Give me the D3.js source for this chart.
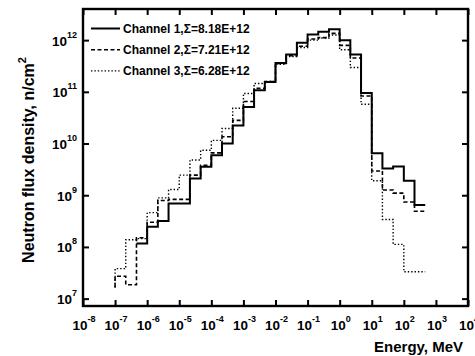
<!DOCTYPE html>
<html>
<head>
<meta charset="utf-8">
<script src="https://cdn.jsdelivr.net/npm/d3@7"></script>
<style>
	body { margin: 0; background: #fff; }
	svg { display: block; font-family: "Liberation Sans", Arial, sans-serif; font-weight: bold; }
</style>
</head>
<body>
<div id="chart"></div>
<script>
// bin edges, MeV (3 bins per decade)
var binEdges = [1e-7, 2.15e-7, 4.64e-7, 1e-6, 2.15e-6, 4.64e-6, 1e-5, 2.15e-5, 4.64e-5,
	1e-4, 2.15e-4, 4.64e-4, 1e-3, 2.15e-3, 4.64e-3, 1e-2, 2.15e-2, 4.64e-2,
	1e-1, 2.15e-1, 4.64e-1, 1, 2.15, 4.64, 10, 21.5, 46.4, 100, 215, 464];

// flux per bin, n/cm2 (channel 1 starts at the 3rd edge)
var channel1 = [1.16e8, 2.45e8, 3.16e8, 6.9e8, 6.9e8, 2.1e9, 3.55e9, 5.9e9, 1.0e10,
	2.24e10, 5.1e10, 1.07e11, 1.55e11, 3.6e11, 5.25e11, 8.9e11, 1.29e12, 1.45e12,
	1.62e12, 1.0e12, 5.25e11, 9.5e10, 6.5e9, 3.3e9, 3.6e9, 1.9e9, 6.5e8];
var channel2 = [2.7e7, 1.85e7, 1.5e8, 3.0e8, 7.9e8, 8.3e8, 8.3e8, 2.45e9, 3.8e9,
	6.6e9, 1.35e10, 2.8e10, 6.5e10, 1.17e11, 1.58e11, 3.55e11, 5.0e11, 7.6e11,
	1.05e12, 1.12e12, 1.35e12, 7.9e11, 4.5e11, 8.3e10, 2.95e9, 1.26e9, 1.1e9, 7.4e8, 4.9e8];
var channel3 = [3.8e7, 1.38e8, 1.45e8, 4.6e8, 8.9e8, 1.29e9, 2.45e9, 4.8e9, 7.4e9,
	1.15e10, 1.95e10, 4.8e10, 9.3e10, 1.45e11, 1.58e11, 3.4e11, 4.8e11, 7.2e11,
	1.0e12, 1.1e12, 1.26e12, 6.5e11, 2.95e11, 5.75e10, 1.9e9, 3.4e8, 1.12e8, 3.3e7, 3.3e7];
var startFlux = [null, 1.65e7, 1.65e7];
var startEdge = [2, 0, 0];

var seriesNames = ["Channel 1,\u03A3=8.18E+12", "Channel 2,\u03A3=7.21E+12", "Channel 3,\u03A3=6.28E+12"];
var xTickExp = [-8, -7, -6, -5, -4, -3, -2, -1, 0, 1, 2, 3, 4];
var yTickExp = [7, 8, 9, 10, 11, 12];

var chartWidth = 475,
	chartHeight = 356,
	margin = { top: 9, right: 7, bottom: 50, left: 83 },
	width = chartWidth - margin.left - margin.right,
	height = chartHeight - margin.top - margin.bottom,
	x = d3.scaleLog().domain([1e-8, 1e4]).range([0, width]),
	y = d3.scaleLog().domain([7.2e6, 4e12]).range([height, 0]),
	styles = [
		{ w: 2, dash: null },
		{ w: 1.6, dash: "4,2.5" },
		{ w: 1.4, dash: "1.4,2" }
	];

var svg = d3.select("#chart").append("svg")
	.attr("width", chartWidth)
	.attr("height", chartHeight);
var g = svg.append("g")
	.attr("transform", "translate(" + margin.left + "," + margin.top + ")");

// histogram steps
var line = d3.line()
	.x(function(d) { return x(d[0]); })
	.y(function(d) { return y(d[1]); })
	.curve(d3.curveStepAfter);

[channel1, channel2, channel3].forEach(function(vals, k) {
	var pts = [],
		e0 = startEdge[k];
	if (startFlux[k] !== null) pts.push([binEdges[e0], startFlux[k]]);
	vals.forEach(function(v, i) { pts.push([binEdges[e0 + i], v]); });
	pts.push([binEdges[e0 + vals.length], vals[vals.length - 1]]);
	g.append("path")
		.attr("d", line(pts))
		.attr("fill", "none")
		.attr("stroke", "#000")
		.attr("stroke-width", styles[k].w)
		.attr("stroke-dasharray", styles[k].dash);
});

// axes, ticks pointing inward on all sides
function styleAxis(sel) {
	sel.select(".domain").remove();
	sel.selectAll(".tick line").attr("stroke", "#000").attr("stroke-width", 2);
}
var xTicks = xTickExp.map(function(e) { return Math.pow(10, e); }),
	yTicks = yTickExp.map(function(e) { return Math.pow(10, e); });

g.append("g").attr("transform", "translate(0," + height + ")")
	.call(d3.axisBottom(x).tickValues(xTicks).tickFormat("").tickSizeInner(-6).tickSizeOuter(0))
	.call(styleAxis);
g.append("g")
	.call(d3.axisTop(x).tickValues(xTicks).tickFormat("").tickSizeInner(-6).tickSizeOuter(0))
	.call(styleAxis);
g.append("g")
	.call(d3.axisLeft(y).tickValues(yTicks).tickFormat("").tickSizeInner(-6).tickSizeOuter(0))
	.call(styleAxis);
g.append("g").attr("transform", "translate(" + width + ",0)")
	.call(d3.axisRight(y).tickValues(yTicks).tickFormat("").tickSizeInner(-6).tickSizeOuter(0))
	.call(styleAxis);

g.append("rect")
	.attr("width", width)
	.attr("height", height)
	.attr("fill", "none")
	.attr("stroke", "#000")
	.attr("stroke-width", 2.4);

// power-of-ten labels
function powLabel(sel, e) {
	sel.append("tspan").text("10");
	sel.append("tspan").attr("dy", -8).attr("font-size", 9).text(e);
}
xTickExp.forEach(function(e) {
	g.append("text")
		.attr("x", x(Math.pow(10, e)) + 1)
		.attr("y", height + 23.5)
		.attr("text-anchor", "middle")
		.attr("font-size", 13.5)
		.call(powLabel, e);
});
yTickExp.forEach(function(e) {
	g.append("text")
		.attr("x", -6)
		.attr("y", y(Math.pow(10, e)) + 5.5)
		.attr("text-anchor", "end")
		.attr("font-size", 13.5)
		.call(powLabel, e);
});

// axis titles
svg.append("text")
	.attr("x", 463)
	.attr("y", 351.5)
	.attr("text-anchor", "end")
	.attr("font-size", 15)
	.text("Energy, MeV");
var yt = svg.append("text")
	.attr("transform", "translate(33.5,160) rotate(-90)")
	.attr("text-anchor", "middle")
	.attr("font-size", 16);
yt.append("tspan").text("Neutron flux density, n/cm");
yt.append("tspan").attr("dy", -8).attr("font-size", 11).text("2");

// legend
seriesNames.forEach(function(name, k) {
	var ly = 19.5 + k * 21.2;
	g.append("line")
		.attr("x1", 8).attr("x2", 37)
		.attr("y1", ly).attr("y2", ly)
		.attr("stroke", "#000")
		.attr("stroke-width", styles[k].w)
		.attr("stroke-dasharray", styles[k].dash);
	g.append("text")
		.attr("x", 40)
		.attr("y", ly + 4.3)
		.attr("font-size", 12)
		.text(name);
});
</script>
</body>
</html>
